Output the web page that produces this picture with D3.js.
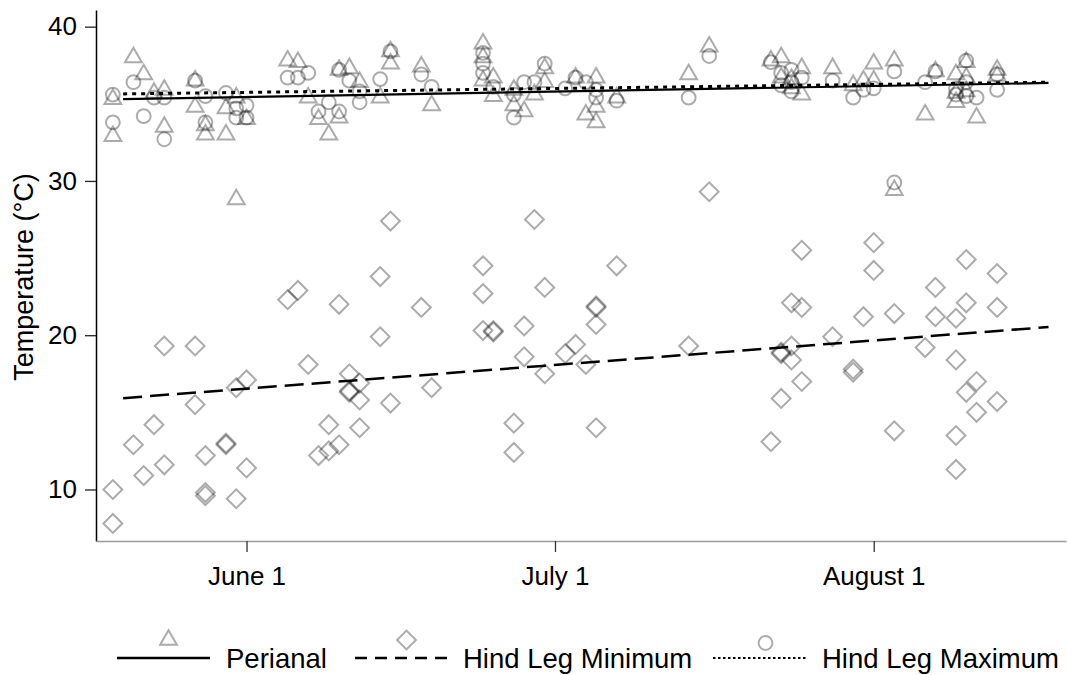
<!DOCTYPE html>
<html>
<head>
<meta charset="utf-8">
<script src="https://cdn.jsdelivr.net/npm/d3@7"></script>
<style>
    body { margin: 0; background: #ffffff; }
    .chart text { font-family: "Liberation Sans", Arial, sans-serif; fill: #000; }
</style>
</head>
<body>
<div class="chart"></div>
<script>
"use strict";

// days are counted from June 1 (0 = June 1, 30 = July 1, 61 = August 1)

var perianal = [
    [-13, 35.3], [-13, 32.9], [-11, 38.0], [-10, 36.9], [-9, 35.7], [-8, 35.9], [-8, 33.5],
    [-5, 36.5], [-5, 34.8], [-4, 33.6], [-4, 33.0], [-2, 34.7], [-2, 33.0], [-1, 28.8],
    [-1, 35.4], [0, 34.0], [4, 37.8], [5, 37.7], [6, 35.4], [7, 34.0], [8, 33.0], [9, 34.1],
    [9, 37.2], [10, 37.3], [11, 36.4], [13, 35.4], [14, 38.4], [14, 37.6], [17, 37.4],
    [18, 34.9], [23, 38.9], [23, 38.0], [23, 36.5], [24, 36.7], [24, 35.5], [26, 35.9],
    [26, 34.9], [27, 34.5], [28, 35.6], [29, 37.3], [29, 36.4], [32, 36.7], [33, 34.3],
    [34, 36.7], [34, 34.8], [34, 33.8], [36, 35.4], [43, 36.9], [45, 38.7],
    [51, 37.8], [52, 38.0], [52, 36.7], [53, 36.6], [53, 36.0], [54, 37.3], [54, 35.6],
    [57, 37.3], [59, 36.2], [60, 36.5], [61, 37.6], [61, 36.5], [63, 37.8], [63, 29.4],
    [66, 34.3], [67, 37.1], [69, 36.9], [69, 35.1], [69, 35.7], [70, 37.7], [70, 36.7],
    [70, 35.8], [71, 34.1], [73, 37.2], [73, 36.8]
];

var hindLegMin = [
    [-13, 10.0], [-13, 7.8], [-11, 12.9], [-10, 10.9], [-9, 14.2], [-8, 19.3], [-8, 11.6],
    [-5, 19.3], [-5, 15.5], [-4, 12.2], [-4, 9.8], [-4, 9.6], [-2, 12.9], [-2, 13.0],
    [-1, 9.4], [0, 11.4], [-1, 16.6], [0, 17.1], [4, 22.3], [5, 22.9], [6, 18.1], [7, 12.2],
    [8, 14.2], [8, 12.5], [9, 22.0], [9, 12.9], [10, 17.5], [10, 16.3], [10, 16.4],
    [11, 16.9], [11, 15.8], [11, 14.0], [13, 23.8], [13, 19.9], [14, 27.4], [14, 15.6],
    [17, 21.8], [18, 16.6], [23, 24.5], [23, 22.7], [23, 20.3], [24, 20.2], [24, 20.3],
    [28, 27.5], [27, 20.6], [27, 18.6], [26, 14.3], [26, 12.4], [29, 23.1], [29, 17.5],
    [31, 18.8], [32, 19.4], [33, 18.1], [34, 21.8], [34, 21.9], [34, 20.7], [34, 14.0],
    [36, 24.5], [43, 19.3], [45, 29.3], [51, 13.1], [52, 15.9], [52, 18.8], [52, 18.9],
    [53, 19.3], [53, 22.1], [53, 18.4], [54, 17.0], [54, 21.8], [54, 25.5], [57, 19.9],
    [59, 17.8], [59, 17.6], [60, 21.2], [61, 26.0], [61, 24.2], [63, 21.4], [63, 13.8],
    [66, 19.2], [67, 23.1], [67, 21.2], [69, 21.1], [69, 18.4], [69, 13.5], [69, 11.3],
    [70, 24.9], [70, 22.1], [70, 16.3], [71, 17.0], [71, 15.0], [73, 24.0], [73, 21.8],
    [73, 15.7]
];

var hindLegMax = [
    [-13, 35.6], [-13, 33.8], [-11, 36.4], [-10, 34.2], [-9, 35.4], [-8, 35.4], [-8, 32.7],
    [-5, 36.5], [-4, 35.5], [-4, 33.8], [-2, 35.7], [-1, 34.7], [-1, 34.1], [0, 34.9],
    [0, 34.1], [4, 36.7], [5, 36.7], [6, 37.0], [7, 34.5], [8, 35.1], [9, 34.5], [9, 37.2],
    [10, 36.5], [11, 35.8], [11, 35.1], [13, 36.6], [14, 38.4], [17, 36.9],
    [18, 36.1], [23, 38.3], [23, 37.6], [23, 37.0], [24, 36.1], [26, 35.6], [26, 34.1],
    [27, 36.4], [28, 36.4], [29, 37.6], [31, 36.0], [32, 36.7], [33, 36.4], [34, 35.9],
    [34, 35.4], [36, 35.2], [43, 35.4], [45, 38.1],
    [51, 37.7], [52, 37.0], [52, 36.2], [53, 37.2], [53, 35.8], [53, 36.4], [54, 36.7],
    [57, 36.5], [59, 35.4], [60, 35.9], [61, 36.0], [63, 37.1], [63, 29.9], [66, 36.4],
    [67, 37.1], [69, 35.6], [69, 36.0], [70, 37.8], [70, 36.4], [70, 35.5], [71, 35.4],
    [73, 36.9], [73, 35.9]
];

// fitted lines: [day, temperature] at both ends
var perianalFit = [[-12, 35.3], [78, 36.35]];
var hindLegMinFit = [[-12, 15.92], [78, 20.53]];
var hindLegMaxFit = [[-12, 35.64], [78, 36.4]];

var xTickDays = [0, 30, 61];
var xTickLabels = ["June 1", "July 1", "August 1"];
var yTickValues = [10, 20, 30, 40];

var seriesNames = ["Perianal", "Hind Leg Minimum", "Hind Leg Maximum"];

var TempChart = function()
{
    var self = this;

    var svgContainer;
    var svgWidth = 1067;
    var svgHeight = 675;

    var plot = { left: 96, right: 1066, top: 10, bottom: 541 };

    var x = d3.scaleLinear()
                .domain([-14.64, 79.7])
                .range([plot.left, plot.right]);

    var y = d3.scaleLinear()
                .domain([6.66, 41.08])
                .range([plot.bottom, plot.top]);

    var markerStroke = "rgba(0,0,0,0.33)";

    var symbols = {
        triangle: d3.symbol().type(d3.symbolTriangle).size(122),
        circle: d3.symbol().type(d3.symbolCircle).size(150),
        diamond: d3.symbol().type(d3.symbolSquare).size(178)
    };

    var lineStyles = [
        { width: 2.2, dash: null, legendDash: null },
        { width: 2.5, dash: "19,8", legendDash: "12,8" },
        { width: 3, dash: "4,5", legendDash: "2.5,2.5" }
    ];

    self.createSVG = function()
    {
        svgContainer = d3.select(".chart").append("svg")
                            .attr("width", svgWidth)
                            .attr("height", svgHeight);
    }

    self.drawAxes = function()
    {
        var yAxis = d3.axisLeft(y)
                        .tickValues(yTickValues)
                        .tickSize(11)
                        .tickPadding(8)
                        .tickSizeOuter(0);

        var yAxisGroup = svgContainer.append("g")
                    .attr("class", "yAxis")
                    .attr("transform", "translate(" + plot.left + ",0)")
                    .call(yAxis);

        yAxisGroup.select(".domain").attr("stroke", "#000").attr("stroke-width", 1.5);
        yAxisGroup.selectAll(".tick line").attr("stroke", "#222").attr("stroke-width", 1.3);
        yAxisGroup.selectAll(".tick text")
                    .attr("font-size", "26px")
                    .attr("font-family", "Liberation Sans, Arial, sans-serif")
                    .attr("fill", "#000");

        var xAxis = d3.axisBottom(x)
                        .tickValues(xTickDays)
                        .tickFormat(function(d, i) { return xTickLabels[i]; })
                        .tickSize(11)
                        .tickPadding(15)
                        .tickSizeOuter(0);

        var xAxisGroup = svgContainer.append("g")
                    .attr("class", "xAxis")
                    .attr("transform", "translate(0," + plot.bottom + ")")
                    .call(xAxis);

        xAxisGroup.select(".domain").attr("stroke", "#9a9a9a").attr("stroke-width", 1.5);
        xAxisGroup.selectAll(".tick line").attr("stroke", "#333").attr("stroke-width", 1.3);
        xAxisGroup.selectAll(".tick text")
                    .attr("font-size", "26px")
                    .attr("font-family", "Liberation Sans, Arial, sans-serif")
                    .attr("fill", "#000");

        svgContainer.append("text")
                    .attr("transform", "translate(33,277) rotate(-90)")
                    .attr("text-anchor", "middle")
                    .attr("font-size", "27px")
                    .text("Temperature (°C)");
    }

    self.drawPoints = function(data, symbol, rotate)
    {
        svgContainer.append("g")
                    .selectAll("path")
                    .data(data)
                    .enter()
                    .append("path")
                    .attr("d", symbol)
                    .attr("transform", function(d) {
                        return "translate(" + x(d[0]) + "," + y(d[1]) + ")" + (rotate ? " rotate(45)" : "");
                    })
                    .attr("fill", "none")
                    .attr("stroke", markerStroke)
                    .attr("stroke-width", 2);
    }

    self.drawFit = function(fit, style)
    {
        var line = d3.line()
                    .x(function(d) { return x(d[0]); })
                    .y(function(d) { return y(d[1]); });

        svgContainer.append("path")
                    .datum(fit)
                    .attr("d", line)
                    .attr("fill", "none")
                    .attr("stroke", "#000")
                    .attr("stroke-width", style.width)
                    .attr("stroke-dasharray", style.dash);
    }

    self.drawLegend = function()
    {
        // line start, text start and symbol for each entry
        var entries = [
            { x0: 117, x1: 210, tx: 226, sym: symbols.triangle, rot: false },
            { x0: 355, x1: 448, tx: 463, sym: symbols.diamond, rot: true },
            { x0: 713, x1: 808, tx: 822, sym: symbols.circle, rot: false }
        ];

        var legend = svgContainer.append("g").attr("class", "legend");

        entries.forEach(function(e, i)
        {
            legend.append("path")
                    .attr("d", e.sym)
                    .attr("transform", "translate(" + ((e.x0 + e.x1) / 2 + 5) + "," + (i == 2 ? 643 : 640) + ")" + (e.rot ? " rotate(45)" : ""))
                    .attr("fill", "none")
                    .attr("stroke", markerStroke)
                    .attr("stroke-width", 2);

            legend.append("line")
                    .attr("x1", e.x0)
                    .attr("x2", e.x1)
                    .attr("y1", 658)
                    .attr("y2", 658)
                    .attr("stroke", "#000")
                    .attr("stroke-width", i == 2 ? 2 : 2.5)
                    .attr("stroke-dasharray", lineStyles[i].legendDash);

            legend.append("text")
                    .attr("x", e.tx)
                    .attr("y", 668)
                    .attr("font-size", "27.5px")
                    .text(seriesNames[i]);
        });
    }

    var publiclyAvailable =
    {
        draw: function()
        {
            self.createSVG();
            self.drawAxes();
            self.drawPoints(hindLegMin, symbols.diamond, true);
            self.drawPoints(hindLegMax, symbols.circle, false);
            self.drawPoints(perianal, symbols.triangle, false);
            self.drawFit(hindLegMinFit, lineStyles[1]);
            self.drawFit(hindLegMaxFit, lineStyles[2]);
            self.drawFit(perianalFit, lineStyles[0]);
            self.drawLegend();
        }
    };

    return publiclyAvailable;
}

var chart = new TempChart();
chart.draw();
</script>
</body>
</html>
